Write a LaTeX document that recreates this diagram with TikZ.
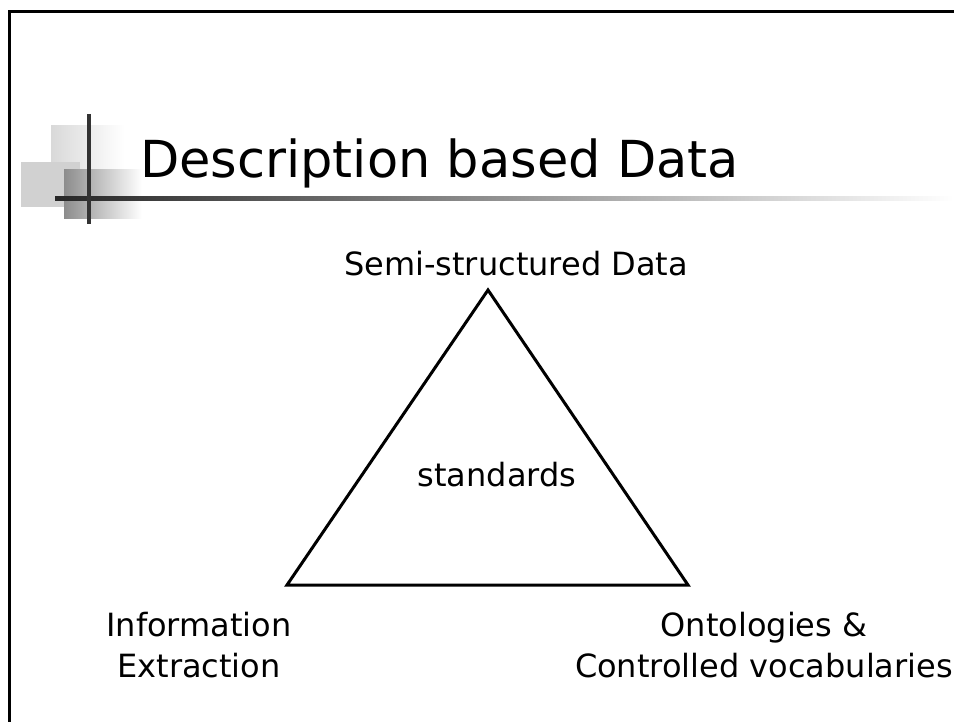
\documentclass[tikz,border=0pt]{standalone}
\usepackage{fontspec}
\setmainfont{DejaVu Sans}

\begin{document}
\begin{tikzpicture}[x=1pt, y=-1pt]

% --- 全局样式 ---
\tikzset{
  every node/.style={inner sep=0pt, font=\fontsize{32}{41}\selectfont},
  titletext/.style={anchor=base west, font=\fontsize{51}{56}\selectfont},
  label/.style={align=center},
  frameline/.style={line width=3pt, black},
  crossbar/.style={line width=3.5pt, black!80}
}

% --- 画面边界 ---
\useasboundingbox (0,0) rectangle (954,722);

% --- 关键点 ---
\coordinate (top) at (488,290);
\coordinate (bl) at (287,585);
\coordinate (br) at (688,585);

% --- 幻灯片边框 ---
\draw[frameline] (9,722) -- (9,12) -- (954,12);

% --- 左上角装饰方块 ---
\shade[left color=black!15, right color=white] (51,126) rectangle (124,177);
\fill[black!18] (21,162) rectangle (80,207);
\shade[left color=black!45, right color=white] (64,170) rectangle (142,219);

% --- 标题下划线与竖线 ---
\shade[left color=black!85, right color=white] (55,197) rectangle (954,201);
\draw[crossbar] (89,114) -- (89,224);

% --- 标题 ---
\node[titletext] (title) at (140,178) {Description based Data};

% --- 三角形 ---
\draw[line width=3pt, line join=miter] (top) -- (bl) -- (br) -- cycle;

% --- 标签 ---
\node[anchor=base] (semi) at (516,276) {Semi-structured Data};
\node[anchor=base] (std) at (497,486) {standards};
\node[label] (ie) at (199,645) {Information\\Extraction};
\node[label] (onto) at (764,645) {Ontologies \&\\Controlled vocabularies};
\end{tikzpicture}
\end{document}
